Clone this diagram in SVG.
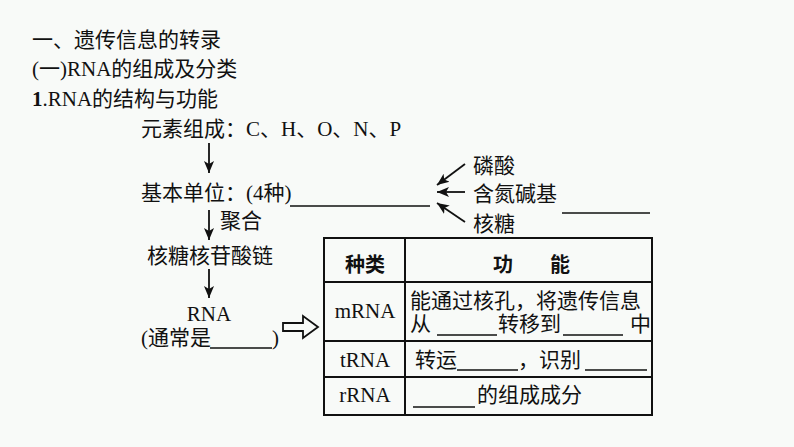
<svg xmlns="http://www.w3.org/2000/svg" width="794" height="447" viewBox="0 0 794 447">
<style>
text{font-family:'Liberation Serif','Noto Sans CJK SC',serif;font-size:21px;fill:#111}
.b{font-weight:bold;font-family:'Noto Sans CJK SC',sans-serif;font-size:20px}
.ln{stroke:#111;stroke-width:1.8;fill:none}
.ul{stroke:#111;stroke-width:1.3}
.tb{stroke:#111;stroke-width:2;fill:none}
</style>
<defs>
<marker id="ah" viewBox="0 0 10 10" refX="10" refY="5" markerWidth="12" markerHeight="12" markerUnits="userSpaceOnUse" orient="auto">
<path d="M0,0.8 L10,5 L0,9.2 L2.5,5 Z" fill="#111"/>
</marker>
</defs>
<rect width="794" height="447" fill="#f8faf8"/>
<g id="titles">
<text x="32" y="47">一、遗传信息的转录</text>
<text x="32" y="76">(一)RNA的组成及分类</text>
<text x="32" y="106"><tspan font-weight="bold">1</tspan>.RNA的结构与功能</text>
</g>
<g id="elements"><text x="141" y="136">元素组成：C、H、O、N、P</text></g>
<g id="unit"><text x="141" y="200">基本单位：(4种)</text><line class="ul" x1="290" y1="206" x2="430" y2="206"/></g>
<g id="chain"><text x="147" y="263">核糖核苷酸链</text></g>
<g id="rna"><text x="209" y="321" text-anchor="middle">RNA</text><text x="141" y="345">(通常是</text><line class="ul" x1="210" y1="348" x2="272" y2="348"/><text x="272" y="345">)</text></g>
<g id="components">
<text x="473" y="173">磷酸</text>
<text x="473" y="201">含氮碱基</text>
<text x="473" y="231">核糖</text>
<line class="ul" x1="562" y1="213" x2="650" y2="213"/>
</g>
<g id="connectors">
<line class="ln" x1="209" y1="143" x2="209" y2="173" marker-end="url(#ah)"/>
<line class="ln" x1="209" y1="210" x2="209" y2="240" marker-end="url(#ah)"/>
<text x="220" y="228">聚合</text>
<line class="ln" x1="209" y1="269" x2="209" y2="298" marker-end="url(#ah)"/>
<line class="ln" x1="465" y1="164" x2="437" y2="185" marker-end="url(#ah)"/>
<line class="ln" x1="465" y1="192" x2="437" y2="192" marker-end="url(#ah)"/>
<line class="ln" x1="465" y1="222" x2="437" y2="203" marker-end="url(#ah)"/>
<path d="M283,323 H303 V316 L318,327 L303,338 V331 H283 Z" fill="none" stroke="#111" stroke-width="1.8" stroke-linejoin="miter"/>
</g>
<g id="table">
<rect class="tb" x="324" y="238" width="328" height="177"/>
<line class="tb" x1="405" y1="238" x2="405" y2="415"/>
<line class="tb" x1="324" y1="282" x2="652" y2="282"/>
<line class="tb" x1="324" y1="341" x2="652" y2="341"/>
<line class="tb" x1="324" y1="377" x2="652" y2="377"/>
<text class="b" x="365" y="272" text-anchor="middle">种类</text>
<text class="b" x="493" y="272">功<tspan x="550">能</tspan></text>
<text x="365" y="318" text-anchor="middle">mRNA</text>
<text x="410" y="308">能通过核孔，将遗传信息</text>
<text x="410" y="331">从</text><line class="ul" x1="437" y1="335" x2="497" y2="335"/>
<text x="498" y="331">转移到</text><line class="ul" x1="563" y1="335" x2="623" y2="335"/>
<text x="630" y="331">中</text>
<text x="365" y="367" text-anchor="middle">tRNA</text>
<text x="415" y="367">转运</text><line class="ul" x1="457" y1="370" x2="518" y2="370"/>
<text x="518" y="367">，识别</text><line class="ul" x1="585" y1="370" x2="647" y2="370"/>
<text x="365" y="402" text-anchor="middle">rRNA</text>
<line class="ul" x1="413" y1="407" x2="475" y2="407"/>
<text x="477" y="402">的组成成分</text>
</g>
</svg>
